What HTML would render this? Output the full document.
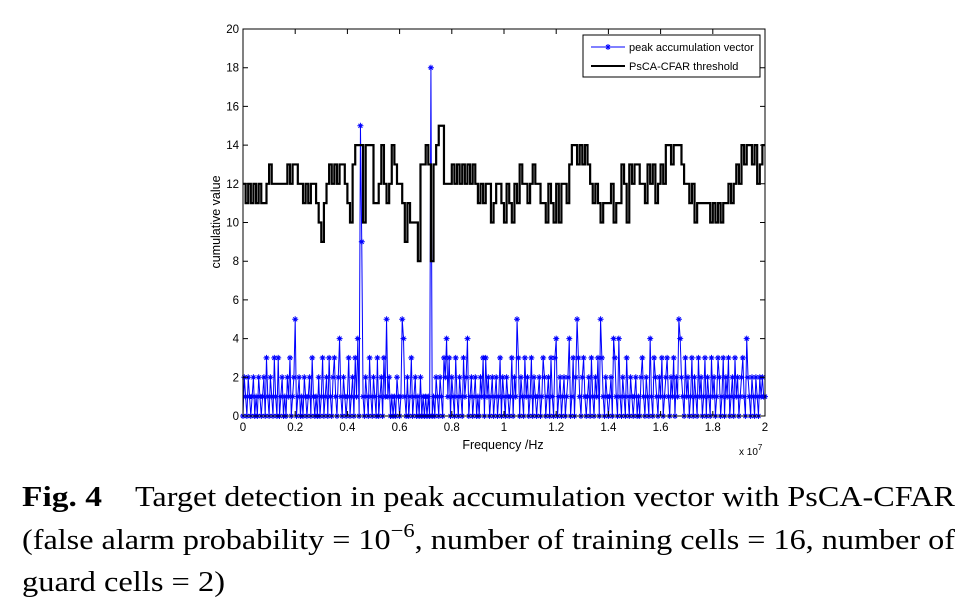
<!DOCTYPE html>
<html><head><meta charset="utf-8">
<style>
html,body{margin:0;padding:0;background:#fff;}
svg{display:block;}
</style></head>
<body>
<svg id="chart" width="978" height="608" viewBox="0 0 978 608" xmlns="http://www.w3.org/2000/svg">
  <rect x="0" y="0" width="978" height="608" fill="#fff"/>
  <g id="plot"></g>
  <g id="axes" font-family="Liberation Sans, sans-serif" font-size="11.5" fill="#000"></g>
  <text x="0" y="0" transform="translate(220,222) rotate(-90)" text-anchor="middle" font-family="Liberation Sans, sans-serif" font-size="12.5">cumulative value</text>
  <text x="503" y="449" text-anchor="middle" font-family="Liberation Sans, sans-serif" font-size="12.5">Frequency /Hz</text>
  <text x="739" y="455" font-family="Liberation Sans, sans-serif" font-size="10">x 10<tspan dy="-5" font-size="8">7</tspan></text>
  <g font-family="Liberation Sans, sans-serif" font-size="11">
    <rect x="583" y="35" width="177" height="42" fill="#fff" stroke="#000" stroke-width="1"/>
    <g>
      <line x1="591" y1="47" x2="625" y2="47" stroke="#0000ff" stroke-width="1"/>
      <path d="M608 44 V50 M605 47 H611 M606 45 L610 49 M610 45 L606 49" stroke="#0000ff" stroke-width="1"/>
      <text x="629" y="51">peak accumulation vector</text>
    </g>
    <g>
      <line x1="591" y1="66" x2="625" y2="66" stroke="#000" stroke-width="2"/>
      <text x="629" y="70">PsCA-CFAR threshold</text>
    </g>
  </g>
  <g font-family="Liberation Serif, serif" font-size="28.5" fill="#000">
    <text x="22" y="506" font-weight="bold" textLength="80" lengthAdjust="spacingAndGlyphs">Fig. 4</text>
    <text x="135" y="506" textLength="820" lengthAdjust="spacingAndGlyphs">Target detection in peak accumulation vector with PsCA-CFAR</text>
    <text x="22" y="549" textLength="933" lengthAdjust="spacingAndGlyphs">(false alarm probability = 10<tspan dy="-12" font-size="20">−6</tspan><tspan dy="12">, number of training cells = 16, number of</tspan></text>
    <text x="22" y="591" textLength="203" lengthAdjust="spacingAndGlyphs">guard cells = 2)</text>
  </g>
</svg>
<script>
const xTicks = [0,0.2,0.4,0.6,0.8,1,1.2,1.4,1.6,1.8,2];
const xTickLabels = ["0","0.2","0.4","0.6","0.8","1","1.2","1.4","1.6","1.8","2"];
const yTicks = [0,2,4,6,8,10,12,14,16,18,20];
const yTickLabels = ["0","2","4","6","8","10","12","14","16","18","20"];
const thresholdStep = 0.01;
const thresholdValues = [
12,11,12,11,12,11,12,11,11,12,
13,12,12,12,12,12,12,13,12,13,
13,12,12,11,12,11,12,12,11,10,
9,11,12,13,12,13,12,13,13,12,
11,10,13,14,14,14,10,14,14,14,
11,11,12,14,12,11,12,14,13,12,
12,11,9,11,10,10,10,8,13,13,
14,13,8,13,14,15,15,12,12,12,
13,12,13,12,13,12,13,12,13,12,
11,12,11,12,12,10,11,12,12,11,
10,12,11,10,12,11,13,12,12,11,
12,13,12,12,11,11,10,12,11,10,
12,10,12,12,11,13,14,14,13,14,
13,14,13,12,11,12,11,10,11,11,
11,12,10,11,11,13,12,10,13,12,
13,13,12,12,11,13,12,13,11,12,
13,12,14,14,13,14,14,14,13,12,
12,11,12,10,11,11,11,11,11,10,
11,10,11,10,11,11,12,11,12,13,
12,14,13,14,14,13,14,12,13,14,14];
const peakStep = 0.005;
const peakValues = [
0,2,1,0,2,1,0,1,2,0,1,0,2,1,0,1,2,0,3,1,
0,2,1,0,3,1,0,3,0,1,2,0,1,0,2,1,3,0,1,2,
5,0,1,2,0,1,0,2,1,0,1,2,0,3,1,0,1,0,2,0,
1,3,0,1,2,0,3,1,0,2,3,1,0,2,4,1,0,2,1,0,
1,3,0,1,2,0,3,1,4,0,15,9,1,0,2,1,0,3,1,0,
2,1,0,3,0,1,2,0,3,1,5,1,2,0,1,0,1,0,2,1,
0,1,5,4,1,0,2,0,1,3,0,1,2,0,1,0,2,0,1,0,
1,0,1,0,18,0,1,0,2,1,0,2,1,0,3,2,4,1,3,0,
2,1,0,3,1,0,2,1,0,3,1,2,4,0,1,2,0,1,2,0,
1,0,2,1,3,0,3,1,2,0,1,2,0,1,2,0,1,3,0,2,
1,0,2,1,0,1,3,0,2,1,5,3,0,2,1,0,3,1,2,0,
1,3,0,2,1,0,1,2,0,1,3,2,0,1,2,0,3,1,0,3,
4,0,1,2,0,1,2,0,1,2,4,0,1,3,0,2,5,3,1,0,
2,3,1,0,1,2,0,3,1,0,2,1,3,0,5,3,1,0,2,1,
0,1,2,0,4,3,1,0,4,1,0,2,1,0,3,1,0,2,1,0,
1,2,0,1,0,2,3,1,0,2,1,0,4,1,0,3,2,1,0,2,
1,3,0,1,2,3,1,0,2,1,3,0,2,1,5,4,2,1,0,3,
1,2,0,1,3,0,2,1,0,3,1,2,0,1,3,0,2,1,0,3,
1,2,0,1,3,2,0,1,3,0,2,1,3,0,1,2,0,3,1,2,
0,1,2,3,1,0,4,2,1,0,2,1,0,2,1,0,2,1,2,1,
1];

const X0=243, X1=765, Y0=416, Y1=29;
const sx = v => X0 + (v-0)/(2-0)*(X1-X0);
const sy = v => Y0 - (v-0)/(20-0)*(Y0-Y1);
const NS='http://www.w3.org/2000/svg';
const plot=document.getElementById('plot');
const axes=document.getElementById('axes');
function mk(tag, attrs, parent){const e=document.createElementNS(NS,tag);for(const k in attrs)e.setAttribute(k,attrs[k]);parent.appendChild(e);return e;}

let d='';
peakValues.forEach((v,i)=>{d+=(i?'L':'M')+sx(i*peakStep).toFixed(2)+' '+sy(v).toFixed(2);});
const pl=mk('path',{d:d,fill:'none',stroke:'#0000ff','stroke-width':'1'},plot);


let md='';
peakValues.forEach((v,i)=>{const x=sx(i*peakStep),y=sy(v);
 md+=`M${x.toFixed(1)} ${(y-3).toFixed(1)}V${(y+3).toFixed(1)}M${(x-3).toFixed(1)} ${y.toFixed(1)}H${(x+3).toFixed(1)}M${(x-2).toFixed(1)} ${(y-2).toFixed(1)}L${(x+2).toFixed(1)} ${(y+2).toFixed(1)}M${(x+2).toFixed(1)} ${(y-2).toFixed(1)}L${(x-2).toFixed(1)} ${(y+2).toFixed(1)}`;});
const pm=mk('path',{d:md,fill:'none',stroke:'#0000ff','stroke-width':'1'},plot);



let td='';
thresholdValues.forEach((v,i)=>{const x=sx(i*thresholdStep),y=sy(v);
 if(i===0) td+=`M${x.toFixed(2)} ${y.toFixed(2)}`; else td+=`H${x.toFixed(2)}V${y.toFixed(2)}`;});
td+=`H${sx(2).toFixed(2)}`;
const tl=mk('path',{d:td,fill:'none',stroke:'#000','stroke-width':'2.2','stroke-linejoin':'miter'},plot);



const box=mk('rect',{x:X0,y:Y1,width:X1-X0,height:Y0-Y1,fill:'none',stroke:'#000','stroke-width':'1'},axes);


xTicks.forEach((t,i)=>{const x=sx(t);
 const tk=mk('path',{d:`M${x} ${Y0}V${Y0-5}M${x} ${Y1}V${Y1+5}`,stroke:'#000','stroke-width':'1'},axes);
 
 
 const lb=mk('text',{x:x,y:Y0+15,'text-anchor':'middle'},axes);
 lb.textContent=xTickLabels[i];
 
 
});
yTicks.forEach((t,i)=>{const y=sy(t);
 const tk=mk('path',{d:`M${X0} ${y}H${X0+5}M${X1} ${y}H${X1-5}`,stroke:'#000','stroke-width':'1'},axes);
 
 
 const lb=mk('text',{x:X0-4,y:y+4,'text-anchor':'end'},axes);
 lb.textContent=yTickLabels[i];
 
 
});
</script>
</body></html>
